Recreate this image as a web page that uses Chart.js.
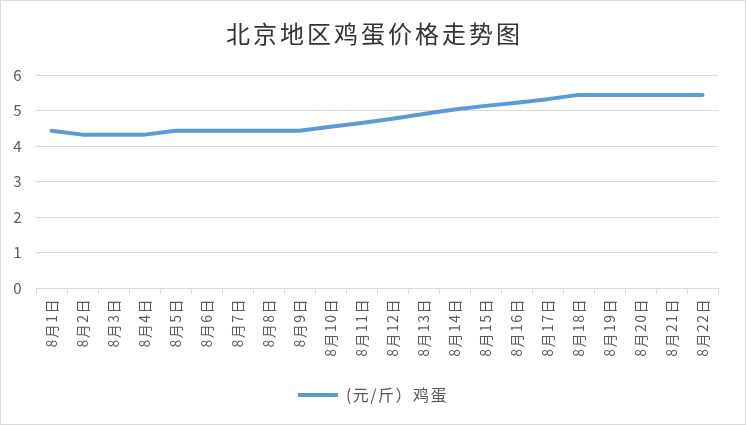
<!DOCTYPE html>
<html><head><meta charset="utf-8">
<script src="https://cdn.jsdelivr.net/npm/chart.js@4"></script>
<style>
html,body{margin:0;padding:0;background:#fff;}
#wrap{width:744px;height:423px;border:1px solid #d9d9d9;position:relative;}
</style></head><body>
<div id="wrap"><canvas id="c" width="744" height="423"></canvas></div>
<script>
const titleText = '北京地区鸡蛋价格走势图';
const seriesName = '(元/斤）鸡蛋';
const categories = ['8月1日','8月2日','8月3日','8月4日','8月5日','8月6日','8月7日','8月8日','8月9日','8月10日','8月11日','8月12日','8月13日','8月14日','8月15日','8月16日','8月17日','8月18日','8月19日','8月20日','8月21日','8月22日'];
const prices = [4.43,4.32,4.32,4.32,4.43,4.43,4.43,4.43,4.43,4.54,4.65,4.77,4.90,5.03,5.13,5.22,5.32,5.44,5.44,5.44,5.44,5.44];
const yTicks = [0,1,2,3,4,5,6];

const FONT = '"Noto Sans CJK SC", "Noto Sans", sans-serif';
Chart.defaults.font.family = FONT;
Chart.defaults.color = '#595959';

const spacingPlugin = {
  id: 'spacing',
  beforeLayout(chart) { chart.ctx.letterSpacing = '1.5px'; },
  beforeDraw(chart) { chart.ctx.letterSpacing = '1.5px'; },
  afterDraw(chart) {
    const ctx = chart.ctx;
    ctx.save();
    ctx.letterSpacing = '3px';
    ctx.font = '24px ' + FONT;
    ctx.fillStyle = '#333333';
    ctx.textAlign = 'center';
    ctx.textBaseline = 'middle';
    ctx.fillText(titleText, chart.width / 2 + 1.5, 33);
    ctx.restore();
  }
};

new Chart(document.getElementById('c'), {
  type: 'line',
  data: {
    labels: categories,
    datasets: [{
      label: seriesName,
      data: prices,
      borderColor: '#5b9bd5',
      backgroundColor: '#5b9bd5',
      borderWidth: 4,
      pointRadius: 0,
      tension: 0,
      borderCapStyle: 'round',
      borderJoinStyle: 'round'
    }]
  },
  plugins: [spacingPlugin],
  options: {
    responsive: false,
    animation: false,
    devicePixelRatio: 1,
    layout: { padding: { top: 74, right: 0, bottom: 11, left: 0 } },
    plugins: {
      title: { display: false, text: titleText },
      legend: {
        display: true,
        position: 'bottom',
        labels: {
          usePointStyle: true,
          pointStyle: 'line',
          pointStyleWidth: 40,
          color: '#595959',
          font: { size: 16, family: FONT },
          padding: 10
        }
      },
      tooltip: { enabled: false }
    },
    scales: {
      x: {
        type: 'category',
        offset: true,
        grid: { display: true, drawOnChartArea: false, drawTicks: true, tickLength: 6, color: '#d9d9d9', offset: true },
        border: { display: true, color: '#d9d9d9', width: 1 },
        ticks: { minRotation: 90, maxRotation: 90, autoSkip: false, color: '#595959', font: { size: 14, family: FONT }, padding: 4 },
        afterFit: (s) => { s.height = 89; }
      },
      y: {
        min: 0, max: 6,
        afterBuildTicks: (s) => { s.ticks = yTicks.map(v => ({ value: v })); },
        grid: { color: '#d9d9d9', drawTicks: false, lineWidth: 1 },
        border: { display: false },
        ticks: { color: '#595959', font: { size: 15, family: FONT }, padding: 13 },
        afterFit: (s) => { s.width = 35; }
      },
      yRight: {
        position: 'right',
        display: true,
        min: 0, max: 6,
        grid: { display: false, drawTicks: false },
        border: { display: false },
        ticks: { display: false },
        afterFit: (s) => { s.width = 27; }
      }
    }
  }
});
</script>
</body></html>
